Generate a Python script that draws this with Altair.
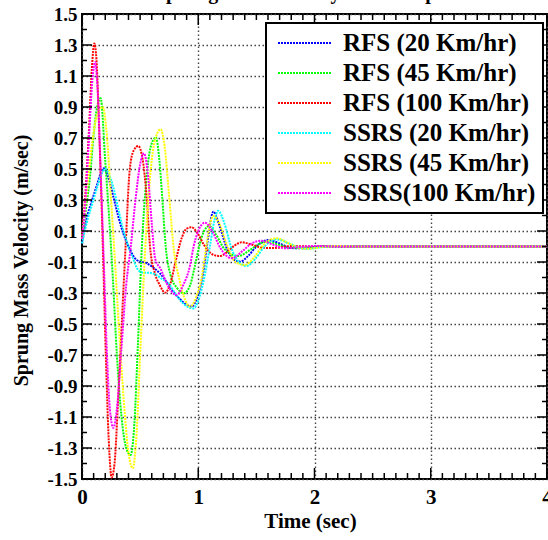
import altair as alt
import pandas as pd

# ---------------- data ----------------
series_names = ["RFS (20 Km/hr)", "RFS (45 Km/hr)", "RFS (100 Km/hr)",
                "SSRS (20 Km/hr)", "SSRS (45 Km/hr)", "SSRS(100 Km/hr)"]
series_colors = ["#0000ff", "#00ff00", "#ff0000", "#00ffff", "#ffff00", "#ff00ff"]

rfs20_t = [0, 0.04, 0.083, 0.126, 0.16, 0.189, 0.22, 0.27, 0.31, 0.355, 0.413, 0.47, 0.556, 0.62, 0.67,
           0.72, 0.771, 0.83, 0.89, 0.943, 0.99, 1.043, 1.08, 1.13, 1.18, 1.25, 1.30, 1.36, 1.43, 1.5,
           1.6, 1.7, 1.8, 1.9, 2.0, 2.2, 2.4, 3.0, 4.0]
rfs20_v = [0.02, 0.18, 0.29, 0.39, 0.47, 0.505, 0.46, 0.32, 0.2, 0.085, -0.02, -0.087, -0.108, -0.14, -0.173,
           -0.22, -0.28, -0.33, -0.37, -0.388, -0.33, -0.17, 0.03, 0.225, 0.14, -0.02, -0.08, -0.098, -0.06, 0.0,
           0.042, 0.02, -0.01, -0.012, -0.003, 0.002, 0.0, 0.0, 0.0]

rfs45_t = [0, 0.035, 0.069, 0.1, 0.13, 0.16, 0.2, 0.24, 0.265, 0.3, 0.34, 0.38, 0.418, 0.45, 0.48,
           0.515, 0.55, 0.59, 0.636, 0.665, 0.69, 0.72, 0.76, 0.82, 0.877, 0.93, 0.97, 1.015, 1.05, 1.095,
           1.15, 1.23, 1.344, 1.45, 1.52, 1.588, 1.7, 1.8, 1.95, 2.1, 2.3, 3.0, 4.0]
rfs45_v = [0.05, 0.25, 0.45, 0.72, 0.9, 0.956, 0.55, 0.11, -0.2, -0.7, -1.1, -1.3, -1.345, -1.15, -0.65,
           0.0, 0.4, 0.64, 0.704, 0.56, 0.32, 0.0, -0.18, -0.27, -0.302, -0.25, -0.13, 0.02, 0.1, 0.132,
           0.08, -0.02, -0.061, -0.02, 0.015, 0.031, 0.01, -0.01, -0.005, 0.002, 0.0, 0.0, 0.0]

rfs100_t = [0, 0.03, 0.06, 0.085, 0.106, 0.125, 0.15, 0.18, 0.205, 0.23, 0.255, 0.28, 0.31, 0.345, 0.375,
            0.41, 0.445, 0.484, 0.52, 0.556, 0.585, 0.63, 0.67, 0.714, 0.76, 0.81, 0.86, 0.9, 0.943, 0.99,
            1.05, 1.12, 1.187, 1.25, 1.31, 1.373, 1.45, 1.55, 1.65, 1.8, 2.0, 3.0, 4.0]
rfs100_v = [0.05, 0.35, 0.75, 1.15, 1.31, 1.2, 0.7, -0.02, -0.7, -1.25, -1.49, -1.4, -1.0, -0.45, 0.0,
            0.49, 0.62, 0.648, 0.57, 0.32, 0.0, -0.18, -0.25, -0.298, -0.24, -0.08, 0.06, 0.115, 0.124, 0.09,
            0.01, -0.05, -0.062, -0.035, 0.005, 0.027, 0.015, -0.008, -0.01, 0.003, 0.0, 0.0, 0.0]

ssrs20_t = [0, 0.04, 0.09, 0.13, 0.17, 0.2, 0.23, 0.27, 0.31, 0.35, 0.39, 0.43, 0.484, 0.53, 0.58,
            0.63, 0.69, 0.742, 0.8, 0.86, 0.91, 0.957, 1.0, 1.06, 1.1, 1.14, 1.172, 1.22, 1.29, 1.35,
            1.416, 1.49, 1.57, 1.674, 1.78, 1.88, 1.95, 2.05, 2.2, 2.4, 3.0, 4.0]
ssrs20_v = [0.02, 0.15, 0.28, 0.38, 0.47, 0.50, 0.47, 0.38, 0.25, 0.12, 0.02, -0.06, -0.152, -0.17, -0.17,
            -0.18, -0.21, -0.237, -0.30, -0.36, -0.39, -0.40, -0.35, -0.17, 0.0, 0.17, 0.231, 0.16, -0.02, -0.1,
            -0.126, -0.08, 0.0, 0.046, 0.02, -0.01, -0.015, -0.005, 0.002, 0.0, 0.0, 0.0]

ssrs45_t = [0, 0.04, 0.09, 0.13, 0.178, 0.21, 0.25, 0.28, 0.32, 0.36, 0.4, 0.436, 0.47, 0.5, 0.545,
            0.58, 0.62, 0.676, 0.71, 0.75, 0.79, 0.84, 0.89, 0.929, 0.98, 1.03, 1.07, 1.1, 1.13, 1.18,
            1.25, 1.32, 1.4, 1.48, 1.56, 1.674, 1.78, 1.88, 1.95, 2.05, 2.2, 2.4, 3.0, 4.0]
ssrs45_v = [0.05, 0.35, 0.68, 0.85, 0.9, 0.75, 0.3, -0.05, -0.55, -1.0, -1.33, -1.43, -1.2, -0.7, 0.0,
            0.4, 0.66, 0.756, 0.65, 0.32, -0.02, -0.22, -0.35, -0.388, -0.33, -0.2, 0.0, 0.14, 0.197, 0.15,
            0.0, -0.1, -0.12, -0.07, 0.01, 0.053, 0.02, -0.01, -0.015, -0.005, 0.003, 0.0, 0.0, 0.0]

ssrs100_t = [0, 0.03, 0.06, 0.09, 0.112, 0.135, 0.16, 0.19, 0.215, 0.24, 0.27, 0.3, 0.34, 0.38, 0.42,
             0.46, 0.5, 0.533, 0.565, 0.6, 0.63, 0.68, 0.73, 0.814, 0.87, 0.93, 0.96, 1.0, 1.058, 1.12,
             1.19, 1.287, 1.38, 1.46, 1.545, 1.65, 1.75, 1.85, 2.0, 2.2, 3.0, 4.0]
ssrs100_v = [0.05, 0.3, 0.7, 1.08, 1.19, 1.0, 0.5, -0.15, -0.7, -1.05, -1.17, -1.05, -0.65, -0.25, 0.0,
             0.3, 0.53, 0.60, 0.48, 0.15, -0.08, -0.15, -0.24, -0.313, -0.25, -0.12, 0.0, 0.1, 0.154, 0.1,
             -0.01, -0.076, -0.03, 0.02, 0.037, 0.01, -0.012, -0.005, 0.003, 0.0, 0.0, 0.0]

y_labels = [-1.5, -1.3, -1.1, -0.9, -0.7, -0.5, -0.3, -0.1, 0.1, 0.3, 0.5, 0.7, 0.9, 1.1, 1.3, 1.5]
x_labels = [0, 1, 2, 3, 4]
y_minor = [round(-1.5 + 0.1 * i, 1) for i in range(31) if round(-1.5 + 0.1 * i, 1) not in y_labels]
x_minor = [round(0.1 * i, 1) for i in range(41) if (i % 10) != 0]

chart_title = "Sprung Mass Velocity Time Response"

# ---------------- build table ----------------
all_t = [rfs20_t, rfs45_t, rfs100_t, ssrs20_t, ssrs45_t, ssrs100_t]
all_v = [rfs20_v, rfs45_v, rfs100_v, ssrs20_v, ssrs45_v, ssrs100_v]
rows = []
for k, (name, ts, vs) in enumerate(zip(series_names, all_t, all_v)):
    assert len(ts) == len(vs), (name, len(ts), len(vs))
    for i, (t, v) in enumerate(zip(ts, vs)):
        rows.append({"t": t, "v": v, "series": name, "order": k * 1000 + i})
df = pd.DataFrame(rows)

W, H = 465, 465
FONT = "Liberation Serif"
GRID = dict(grid=True, gridColor="#444444", gridDash=[1.5, 2.5], gridWidth=1.4, gridOpacity=1)
xscale = alt.Scale(domain=[0, 4], nice=False, zero=False)
yscale = alt.Scale(domain=[-1.5, 1.5], nice=False, zero=False)

x_axis = alt.Axis(values=x_labels, title="Time (sec)", ticks=False, domain=False,
                  labelFont=FONT, labelFontWeight="bold", labelColor="black",
                  labelFontSize=21, labelPadding=7, labelFlush=False,
                  titleFont=FONT, titleFontWeight="bold", titleColor="black",
                  titleFontSize=21, titleX=228, titleY=31, **GRID)
y_axis = alt.Axis(values=y_labels, title="Sprung Mass Velocity (m/sec)", ticks=False,
                  domain=False, labelFontSize=19, labelPadding=5,
                  labelFont=FONT, labelFontWeight="bold", labelColor="black",
                  labelExpr="(datum.value < 0 ? '-' : '') + format(abs(datum.value), '.1f')",
                  titleFont=FONT, titleFontWeight="bold", titleColor="black",
                  titleFontSize=20, titleX=-51, titleY=246, **GRID)

lines = alt.Chart(df).mark_line(strokeWidth=2, strokeDash=[2, 1], interpolate="monotone").encode(
    x=alt.X("t:Q", scale=xscale, axis=x_axis),
    y=alt.Y("v:Q", scale=yscale, axis=y_axis),
    color=alt.Color("series:N", sort=series_names,
                    scale=alt.Scale(domain=series_names, range=series_colors),
                    legend=alt.Legend(orient="none", legendX=184, legendY=9, title=None,
                                      labelFont=FONT, labelFontWeight="bold", labelFontSize=25,
                                      labelColor="black", labelLimit=400, labelOffset=10,
                                      symbolType="stroke", symbolSize=2916, symbolStrokeWidth=2,
                                      symbolOffset=4, symbolDash=[2, 1],
                                      strokeColor="black", fillColor="white",
                                      padding=7, rowPadding=4, clipHeight=26)),
    detail="series:N",
    order="order:Q",
)

def yticks(vals, x0, x1):
    d = pd.DataFrame({"v": vals})
    return alt.Chart(d).mark_rule(color="black", strokeWidth=1.5).encode(
        y=alt.Y("v:Q", scale=yscale, axis=y_axis), x=alt.value(x0), x2=alt.value(x1))

def xticks(vals, y0, y1):
    d = pd.DataFrame({"t": vals})
    return alt.Chart(d).mark_rule(color="black", strokeWidth=1.5).encode(
        x=alt.X("t:Q", scale=xscale, axis=x_axis), y=alt.value(y0), y2=alt.value(y1))

ticks = [
    yticks(y_labels, 0, 10), yticks(y_minor, 0, 5),
    yticks(y_labels, W, W - 10), yticks(y_minor, W, W - 5),
    xticks(x_labels, H, H - 11), xticks(x_minor, H, H - 6),
    xticks(x_labels, 0, 11), xticks(x_minor, 0, 6),
]

chart = alt.layer(lines, *ticks).properties(
    width=W, height=H,
    background="white",
    autosize=alt.AutoSizeParams(type="none"),
    padding={"left": 82, "top": 14, "right": 1, "bottom": 61},
    title=alt.TitleParams(text=chart_title, font=FONT, fontWeight="bold", fontSize=20,
                          anchor="middle", offset=2, color="black"),
).configure_view(stroke="black", strokeWidth=2).configure_legend(strokeWidth=2)

chart.save("out.html", embed_options={"renderer": "svg", "actions": False})
